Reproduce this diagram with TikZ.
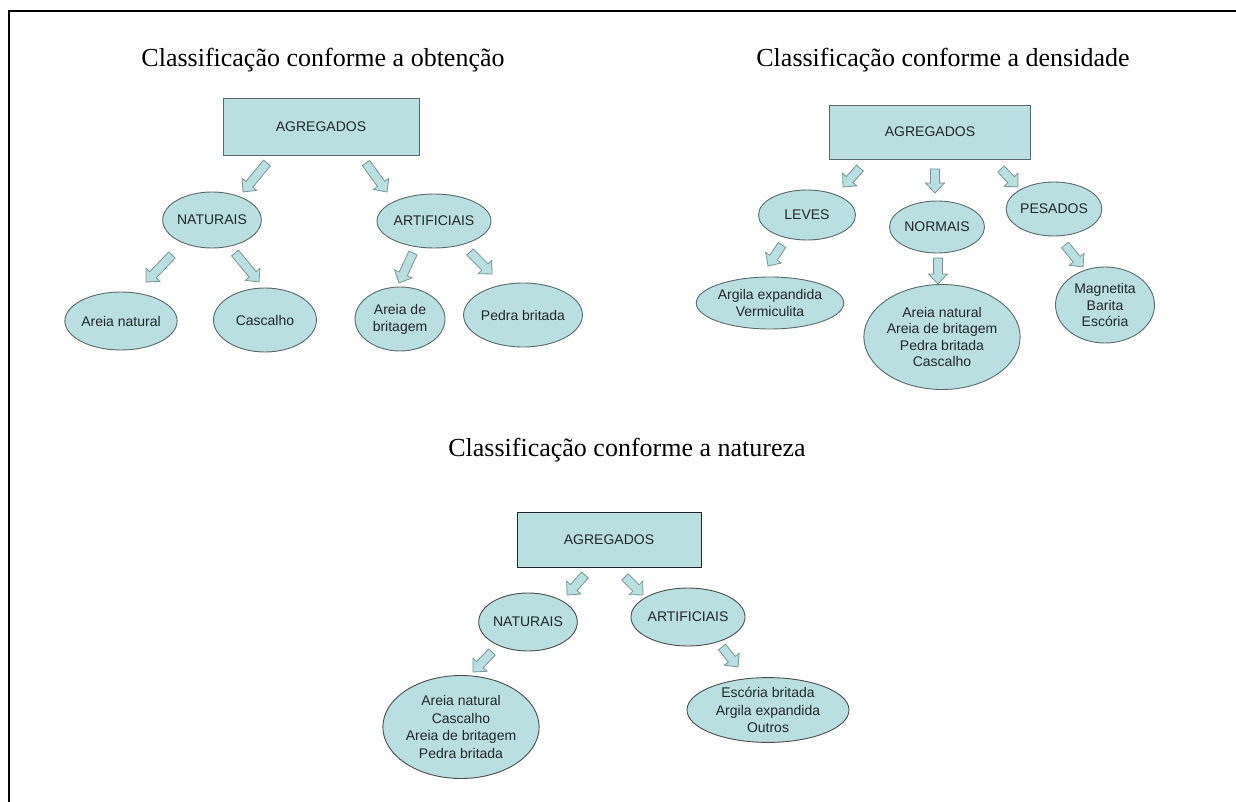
\documentclass[tikz,border=0pt]{standalone}
\usepackage{fontspec}
\setmainfont{Liberation Serif}
\newfontfamily\arialfont{Liberation Sans}
\usetikzlibrary{shapes.geometric,calc}

\definecolor{aqua}{RGB}{185,223,225}
\definecolor{edgegray}{RGB}{90,105,105}
\definecolor{arrowgray}{RGB}{120,148,148}
\definecolor{inkgray}{RGB}{35,40,40}

\tikzset{
  heading/.style={font=\fontsize{26}{30}\selectfont, anchor=base, inner sep=0pt},
  rootbox/.style={rectangle, draw=edgegray, fill=aqua, line width=0.9pt, inner sep=0pt,
    text=inkgray, font=\arialfont\fontsize{14}{16.5}\selectfont},
  oval/.style={ellipse, draw=edgegray, fill=aqua, line width=0.9pt, inner sep=0pt,
    align=center, text=inkgray, font=\arialfont\fontsize{14}{16.5}\selectfont},
  blockarrow/.style={draw=arrowgray, fill=aqua, line width=0.8pt, line join=miter},
  frame/.style={line width=2pt, black}
}

% block arrow from tail coordinate #1 to tip coordinate #2
\newcommand{\blockarrow}[2]{%
  \coordinate (ba-c) at ($(#2)!10pt!(#1)$);
  \path[blockarrow]
    ($(#1)!4.5pt!90:(#2)$) -- ($(ba-c)!4.5pt!-90:(#1)$) -- ($(ba-c)!9.5pt!-90:(#1)$) --
    (#2) -- ($(ba-c)!9.5pt!90:(#1)$) -- ($(ba-c)!4.5pt!90:(#1)$) --
    ($(#1)!4.5pt!-90:(#2)$) -- cycle;}

\begin{document}
\begin{tikzpicture}[x=1pt,y=-1pt]
\useasboundingbox (0,0) rectangle (1236,802);

% page frame (top and left rules)
\coordinate (fr-tl) at (9,11);
\coordinate (fr-tr) at (1236,11);
\coordinate (fr-bl) at (9,802);
\draw[frame] (fr-tr) -- (fr-tl) -- (fr-bl);

% ---------- Classificação conforme a obtenção ----------
\node[heading] (t1) at (323,67) {Classificação conforme a obtenção};
\node[rootbox, minimum width=196pt, minimum height=57pt] (ag1) at (321,126.5) {AGREGADOS};
\node[oval, minimum width=97pt, minimum height=56pt] (nat1) at (212,220) {NATURAIS};
\node[oval, minimum width=99pt, minimum height=54pt] (art1) at (434,221) {ARTIFICIAIS};
\node[oval, minimum width=104pt, minimum height=58pt] (an1) at (121,321) {Areia natural};
\node[oval, minimum width=103pt, minimum height=64pt] (ca1) at (265,320) {Cascalho};
\node[oval, font=\arialfont\fontsize{14}{17}\selectfont, minimum width=90pt, minimum height=64pt] (ab1) at (400,319) {Areia de\\britagem};
\node[oval, minimum width=101pt, minimum height=64pt] (pb1) at (523,315) {Pedra britada};

\coordinate (a1s) at (267,163); \coordinate (a1e) at (243,192);
\coordinate (a2s) at (366,163); \coordinate (a2e) at (387,192);
\coordinate (a3s) at (172,255); \coordinate (a3e) at (146,282);
\coordinate (a4s) at (235,253); \coordinate (a4e) at (259,282);
\coordinate (a5s) at (413,253); \coordinate (a5e) at (399,283);
\coordinate (a6s) at (470,252); \coordinate (a6e) at (492,274);
\blockarrow{a1s}{a1e}
\blockarrow{a2s}{a2e}
\blockarrow{a3s}{a3e}
\blockarrow{a4s}{a4e}
\blockarrow{a5s}{a5e}
\blockarrow{a6s}{a6e}

% ---------- Classificação conforme a densidade ----------
\node[heading] (t2) at (943,67) {Classificação conforme a densidade};
\node[rootbox, minimum width=201pt, minimum height=54pt] (ag2) at (930,132) {AGREGADOS};
\node[oval, minimum width=97pt, minimum height=50pt] (lev) at (807,215) {LEVES};
\node[oval, minimum width=95pt, minimum height=52pt] (nor) at (937,227) {NORMAIS};
\node[oval, minimum width=91pt, minimum height=54pt] (pes) at (1054,209) {PESADOS};
\node[oval, minimum width=115pt, minimum height=52pt] (levl) at (770,303) {Argila expandida\\Vermiculita};
\node[oval, minimum width=147pt, minimum height=105pt] (norl) at (942,337) {Areia natural\\Areia de britagem\\Pedra britada\\Cascalho};
\node[oval, minimum width=99pt, minimum height=76pt] (pesl) at (1105,305) {Magnetita\\Barita\\Escória};

\coordinate (b1s) at (860,168); \coordinate (b1e) at (843,187);
\coordinate (b2s) at (935,169); \coordinate (b2e) at (935,193);
\coordinate (b3s) at (1001,169); \coordinate (b3e) at (1018,187);
\coordinate (b4s) at (782,245); \coordinate (b4e) at (768,266);
\coordinate (b5s) at (938,258); \coordinate (b5e) at (938,284);
\coordinate (b6s) at (1065,245); \coordinate (b6e) at (1083,267);
\blockarrow{b1s}{b1e}
\blockarrow{b2s}{b2e}
\blockarrow{b3s}{b3e}
\blockarrow{b4s}{b4e}
\blockarrow{b5s}{b5e}
\blockarrow{b6s}{b6e}

% ---------- Classificação conforme a natureza ----------
\node[heading] (t3) at (627,456) {Classificação conforme a natureza};
\node[rootbox, draw=black!85, line width=0.8pt, minimum width=184pt, minimum height=55pt] (ag3) at (609,540) {AGREGADOS};
\node[oval, draw=black!70, minimum width=98pt, minimum height=58pt] (nat3) at (528,622) {NATURAIS};
\node[oval, draw=black!70, minimum width=93pt, minimum height=58pt] (art3) at (688,617) {ARTIFICIAIS};
\node[oval, draw=black!70, font=\arialfont\fontsize{14}{17.7}\selectfont, minimum width=139pt, minimum height=103pt] (natl) at (461,727) {Areia natural\\Cascalho\\Areia de britagem\\Pedra britada};
\node[oval, draw=black!70, font=\arialfont\fontsize{14}{17.7}\selectfont, minimum width=162pt, minimum height=60pt] (artl) at (768,710) {Escória britada\\Argila expandida\\Outros};

\coordinate (c1s) at (585,575); \coordinate (c1e) at (567,595);
\coordinate (c2s) at (625,577); \coordinate (c2e) at (643,595);
\coordinate (c3s) at (492,652); \coordinate (c3e) at (473,672);
\coordinate (c4s) at (722,647); \coordinate (c4e) at (738,667);
\blockarrow{c1s}{c1e}
\blockarrow{c2s}{c2e}
\blockarrow{c3s}{c3e}
\blockarrow{c4s}{c4e}
\end{tikzpicture}
\end{document}
